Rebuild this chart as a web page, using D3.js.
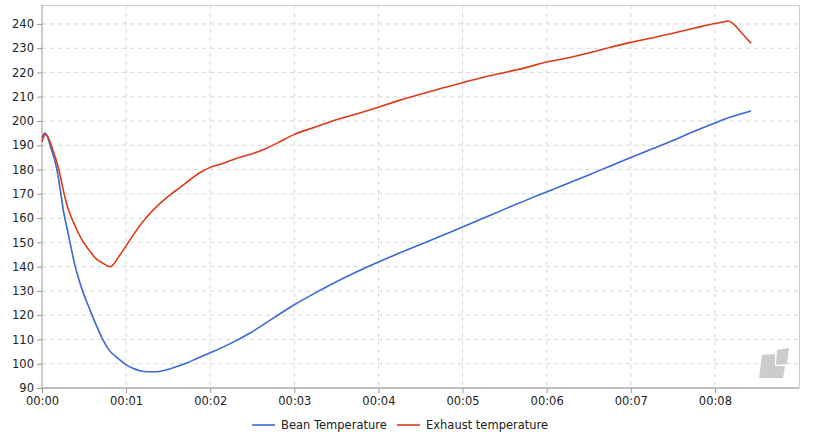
<!DOCTYPE html>
<html><head><meta charset="utf-8">
<script src="https://cdn.jsdelivr.net/npm/d3@7"></script>
<style>
body{margin:0;background:#fff;}
text{font-family:"DejaVu Sans",sans-serif;}
</style></head>
<body><svg id="c" width="818" height="432"></svg>
<script>
const beanTimes = [0,0.035,0.065,0.1,0.15,0.18,0.22,0.26,0.3,0.333,0.392,0.44,0.49,0.57,0.65,0.73,0.8,0.89,1.0,1.08,1.165,1.25,1.35,1.45,1.55,1.72,1.85,2.0,2.25,2.5,2.75,3.0,3.25,3.5,3.75,4.0,4.25,4.5,4.75,5.0,5.25,5.5,5.75,6.0,6.25,6.5,6.75,7.0,7.25,7.5,7.75,8.0,8.12,8.43];
const beanTemps = [193,195,193.5,189.5,184,179.5,171,162,155.5,150,140.5,134.5,129.3,122.2,115.5,109.5,105.5,102.6,99.6,98.1,97.1,96.7,96.7,97.2,98.2,100.3,102.3,104.5,108.5,113.2,118.8,124.3,129.2,133.8,138,141.9,145.6,149.1,152.7,156.3,160,163.7,167.3,170.8,174.3,177.8,181.4,185,188.5,192,195.7,199.2,200.8,204.1];
const exhaustTimes = [0,0.04,0.07,0.11,0.2,0.26,0.3,0.353,0.42,0.484,0.56,0.65,0.72,0.78,0.81,0.84,0.9,0.96,1.03,1.1,1.165,1.25,1.4,1.52,1.64,1.76,1.88,2.0,2.15,2.3,2.5,2.65,2.8,3.0,3.25,3.5,3.75,4.0,4.25,4.5,4.75,5.0,5.25,5.5,5.75,6.0,6.25,6.5,6.75,7.0,7.25,7.5,7.75,8.0,8.1,8.16,8.22,8.3,8.43];
const exhaustTemps = [191.5,194.5,193.5,190,180,170.5,165,160,154.8,150.5,146.8,143,141.5,140.3,140,140.6,143.5,146.5,150.2,153.8,157,160.7,166,169.5,172.6,175.8,178.8,180.9,182.5,184.5,186.5,188.5,191,194.5,197.5,200.5,203,205.7,208.5,211,213.5,215.8,218,220,222,224.3,226,228,230.3,232.4,234.2,236.2,238.2,240.2,240.8,241.2,240,237,232];
const yTicks = [90,100,110,120,130,140,150,160,170,180,190,200,210,220,230,240];
const xTicks = [0,1,2,3,4,5,6,7,8];
const xTickLabels = ["00:00","00:01","00:02","00:03","00:04","00:05","00:06","00:07","00:08"];
const seriesNames = ["Bean Temperature","Exhaust temperature"];
const seriesColors = ["#3a68d4","#dc3a17"];

const svg = d3.select("#c");
const L=42,R=799,T=5,B=388;
const x = d3.scaleLinear().domain([0,9]).range([L,R]);
const y = d3.scaleLinear().domain([90,247.8]).range([B,T]);
const FS = "11.5px";

// grid
const g = svg.append("g");
g.selectAll("line.h").data(yTicks.filter(d=>d>90)).join("line")
 .attr("x1",L).attr("x2",R).attr("y1",d=>y(d)).attr("y2",d=>y(d))
 .attr("stroke","#d6d6d6").attr("stroke-dasharray","4,4");
g.selectAll("line.v").data(xTicks.filter(d=>d>0)).join("line")
 .attr("y1",T).attr("y2",B).attr("x1",d=>x(d)).attr("x2",d=>x(d))
 .attr("stroke","#d6d6d6").attr("stroke-dasharray","4,4");

// borders
svg.append("line").attr("x1",L).attr("x2",R).attr("y1",T+0.5).attr("y2",T+0.5).attr("stroke","#cfcfcf");
svg.append("line").attr("x1",R+0.5).attr("x2",R+0.5).attr("y1",T).attr("y2",B).attr("stroke","#cfcfcf");

// watermark
svg.append("path").attr("fill","#cccccc")
 .attr("d","M762,355 L775,354 L775,366 L785,366 L783,378 L759,378 Z M777,350 L789,348 L787,364 L776,365 Z");

// axes
const ya = svg.append("g").attr("transform",`translate(${L},0)`)
 .call(d3.axisLeft(y).tickValues(yTicks).tickSize(5).tickPadding(3).tickFormat(d3.format("d")));
ya.select(".domain").attr("stroke","#999").attr("d",`M0,${T}V${B}`);
ya.selectAll(".tick line").attr("stroke","#999");
ya.selectAll("text").attr("font-size",FS).attr("fill","#222").style("font-family","DejaVu Sans");

const xa = svg.append("g").attr("transform",`translate(0,${B})`)
 .call(d3.axisBottom(x).tickValues(xTicks).tickSize(5).tickPadding(4).tickFormat((d,i)=>xTickLabels[i]));
xa.select(".domain").attr("stroke","#aaa").attr("stroke-width",1.5).attr("d",`M${L},0H${R}`);
xa.selectAll(".tick line").attr("stroke","#999");
xa.selectAll("text").attr("font-size",FS).attr("fill","#222").style("font-family","DejaVu Sans");

// lines
const line = d3.line().x(d=>x(d[0])).y(d=>y(d[1])).curve(d3.curveMonotoneX);
const sets = [d3.zip(beanTimes,beanTemps), d3.zip(exhaustTimes,exhaustTemps)];
sets.forEach((s,i)=>{
  svg.append("path").datum(s).attr("d",line).attr("fill","none")
   .attr("stroke",seriesColors[i]).attr("stroke-width",1.6).attr("stroke-linejoin","round");
});

// legend
const legX=[252,397];
seriesNames.forEach((n,i)=>{
  svg.append("line").attr("x1",legX[i]).attr("x2",legX[i]+23).attr("y1",425).attr("y2",425)
    .attr("stroke",seriesColors[i]).attr("stroke-width",1.6);
  svg.append("text").attr("x",legX[i]+29).attr("y",429).attr("font-size",FS).attr("fill","#222").text(n);
});
</script></body></html>
